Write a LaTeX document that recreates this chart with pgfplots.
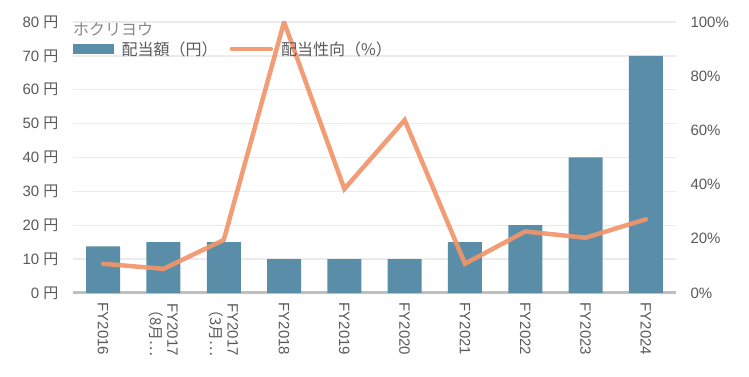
\documentclass[border=0pt]{standalone}
\usepackage{pgfplots}
\pgfplotsset{compat=1.18}
\usepackage{fontspec}
\setmainfont{Liberation Sans}
\newfontfamily\jp{Noto Sans CJK JP}
\usetikzlibrary{calc}
\definecolor{barblue}{HTML}{5A8EA8}
\definecolor{lineorange}{HTML}{F2956A}
\definecolor{txtgray}{HTML}{595959}
\definecolor{titlegray}{HTML}{888888}
\definecolor{gridgray}{HTML}{EBEBEB}
\definecolor{axgray}{HTML}{BFBFBF}
\begin{document}
\begin{tikzpicture}[font=\fontsize{15}{17}\selectfont]
\pgfplotsset{every axis/.append style={
  scale only axis, width=603pt, height=271pt,
  xmin=-0.5, xmax=9.5,
  tick style={draw=none},
  y axis line style={draw=none},
}}
\begin{axis}[
  ymin=0, ymax=80,
  ytick={0,10,...,80},
  yticklabels={0 {\jp 円},10 {\jp 円},20 {\jp 円},30 {\jp 円},40 {\jp 円},50 {\jp 円},60 {\jp 円},70 {\jp 円},80 {\jp 円}},
  yticklabel style={text=txtgray, xshift=-11pt},
  axis x line*=bottom, axis y line*=left,
  x axis line style={axgray, line width=3pt, -},
  ymajorgrids, grid style={gridgray, line width=1.3pt},
  xtick={0,...,9},
  xticklabels={FY2016,{FY2017\\{\jp （8月…}},{FY2017\\{\jp （3月…}},FY2018,FY2019,FY2020,FY2021,FY2022,FY2023,FY2024},
  xticklabel style={text=txtgray, yshift=-6pt, rotate=-90, anchor=west, align=center},
]
\addplot[ybar, bar width=34pt, bar shift=0pt, fill=barblue, draw=none] coordinates {
  (0,13.75) (1,15) (2,15) (3,10) (4,10) (5,10) (6,15) (7,20) (8,40) (9,70)
};
\coordinate (O) at (rel axis cs:0,0);
\node[anchor=west, text=titlegray, inner sep=0pt, font=\fontsize{16}{18}\selectfont\jp] at (rel axis cs:0,0.972) {ホクリヨウ};
\end{axis}
\begin{axis}[
  ymin=0, ymax=100,
  ytick={0,20,...,100},
  yticklabel={\pgfmathprintnumber{\tick}\%},
  /pgf/number format/assume math mode=true,
  yticklabel style={text=txtgray, xshift=11pt},
  axis y line*=right, axis x line=none,
  legend columns=4,
  legend style={at={(rel axis cs:0,0.900)}, anchor=west, draw=none, fill=none, inner sep=0pt,
    text=txtgray, font=\fontsize{16}{18}\selectfont\jp,
    /tikz/every odd column/.append style={column sep=6pt},
    /tikz/every even column/.append style={column sep=10pt}},
]
\addlegendimage{legend image code/.code={\fill[barblue] (0pt,-4.5pt) rectangle (40pt,4.5pt);}}
\addlegendentry{配当額（円）}
\addplot[lineorange, opacity=0.92, line width=4.5pt, line cap=round,
  legend image code/.code={\draw[lineorange,line width=4.5pt,line cap=round] (2pt,0) -- (41pt,0);}]
  coordinates {
  (0,10.8) (1,8.9) (2,19.6) (3,100) (4,38.4) (5,63.8) (6,10.8) (7,22.7) (8,20.4) (9,27.2)
};
\addlegendentry{配当性向（\%）}
\end{axis}
\pgfresetboundingbox
\path ($(O)+(-73pt,-84pt)$) rectangle ++(749pt,377pt);
\end{tikzpicture}
\end{document}
